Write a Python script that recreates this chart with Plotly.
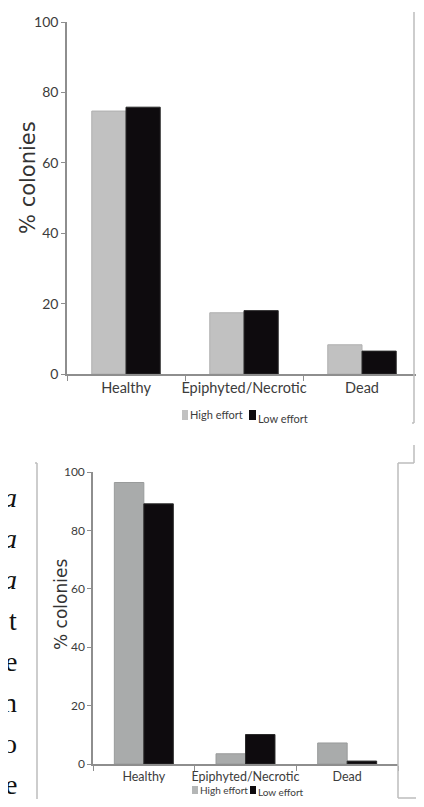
import plotly.graph_objects as go

# The page adds an 8 px body margin on every side, so the figure is drawn
# smaller (to avoid scrollbars) and reference pixel positions are shifted.
PAGE_OFF = 8
W, H = 424 - PAGE_OFF, 807 - 2 * PAGE_OFF

categories = ["Healthy", "Epiphyted/Necrotic", "Dead"]
series_names = ["High effort", "Low effort"]

top_high = [74.7, 17.4, 8.3]
top_low = [75.8, 18.0, 6.5]

bottom_high = [96.4, 3.5, 7.2]
bottom_low = [89.1, 10.1, 1.0]

y_ticks = [0, 20, 40, 60, 80, 100]
y_title = "% colonies"

side_letters = ["a", "a", "a", "t", "e", "n", "o", "e"]
side_italic = [True, True, True, False, False, False, False, False]

NARROW = "Lato, Liberation Sans, sans-serif"
AXIS_GREY = "#8e8e8e"
FRAME_GREY = "#bdbdbd"
TEXT_GREY = "#3c3c3c"


def px(x):
    return (x - PAGE_OFF) / W


def py(y):
    return 1 - (y - PAGE_OFF) / H


fig = go.Figure()

# top panel
fig.add_trace(go.Bar(x=categories, y=top_high, name=series_names[0],
                     marker=dict(color="#c1c1c1", line=dict(color="#b0b0b0", width=1)),
                     xaxis="x", yaxis="y"))
fig.add_trace(go.Bar(x=categories, y=top_low, name=series_names[1],
                     marker=dict(color="#0e0b0e", line=dict(color="#2a2a2a", width=1)),
                     xaxis="x", yaxis="y"))
# bottom panel
fig.add_trace(go.Bar(x=categories, y=bottom_high, name=series_names[0],
                     marker=dict(color="#a9abab", line=dict(color="#999b9b", width=1)),
                     xaxis="x2", yaxis="y2"))
fig.add_trace(go.Bar(x=categories, y=bottom_low, name=series_names[1],
                     marker=dict(color="#0e0b0e", line=dict(color="#2a2a2a", width=1)),
                     xaxis="x2", yaxis="y2"))


def xaxis_style(domain, size):
    return dict(domain=domain, type="category", showline=True, linecolor=AXIS_GREY,
                linewidth=1.5, ticks="outside", tickson="boundaries", ticklen=5,
                tickcolor=AXIS_GREY, tickwidth=1.2, showgrid=False, zeroline=False,
                tickangle=0, automargin=False,
                tickfont=dict(family=NARROW, size=size, color=TEXT_GREY), fixedrange=True)


def yaxis_style(domain, anchor, size):
    return dict(domain=domain, anchor=anchor, range=[0, 100], tickvals=y_ticks,
                showline=True, linecolor=AXIS_GREY, linewidth=1.5, ticks="outside",
                ticklen=4, tickcolor=AXIS_GREY, tickwidth=1.2, showgrid=False,
                zeroline=False, automargin=False,
                tickfont=dict(family=NARROW, size=size, color=TEXT_GREY),
                fixedrange=True)


fig.update_layout(
    width=W, height=H,
    margin=dict(l=0, r=0, t=0, b=0, autoexpand=False),
    paper_bgcolor="white", plot_bgcolor="white",
    showlegend=False,
    barmode="group", bargap=0.42, bargroupgap=0,
    xaxis=dict(**xaxis_style([px(67), px(421)], 14.5), anchor="y"),
    yaxis=yaxis_style([py(374), py(22)], "x", 14),
    xaxis2=dict(**xaxis_style([px(93), px(398)], 12.5), anchor="y2"),
    yaxis2=yaxis_style([py(764), py(472)], "x2", 12),
)

annotations = []
# y titles
annotations.append(dict(x=px(28), y=py(178), xref="paper", yref="paper", text=y_title,
                        textangle=-90, showarrow=False, xanchor="center", yanchor="middle",
                        font=dict(family="DejaVu Sans", size=21, color="#333333")))
annotations.append(dict(x=px(61), y=py(605), xref="paper", yref="paper", text=y_title,
                        textangle=-90, showarrow=False, xanchor="center", yanchor="middle",
                        font=dict(family="DejaVu Sans", size=17, color="#333333")))

# legends
shapes = []


def legend(sq1, sq2, ytop, ybot, ytext1, ytext2, size, grey):
    shapes.append(dict(type="rect", xref="paper", yref="paper",
                       x0=px(sq1[0]), x1=px(sq1[1]), y0=py(ybot), y1=py(ytop),
                       fillcolor=grey, line=dict(width=0)))
    shapes.append(dict(type="rect", xref="paper", yref="paper",
                       x0=px(sq2[0]), x1=px(sq2[1]), y0=py(ybot), y1=py(ytop),
                       fillcolor="#0e0b0e", line=dict(width=0)))
    annotations.append(dict(x=px(sq1[1]), y=py(ytext1), xref="paper", yref="paper",
                            text=series_names[0], xanchor="left", yanchor="middle",
                            showarrow=False,
                            font=dict(family=NARROW, size=size, color=TEXT_GREY)))
    annotations.append(dict(x=px(sq2[1]), y=py(ytext2), xref="paper", yref="paper",
                            text=series_names[1], xanchor="left", yanchor="middle",
                            showarrow=False,
                            font=dict(family=NARROW, size=size, color=TEXT_GREY)))


legend((182, 188), (249, 256), 410, 420, 415, 418, 11, "#c1c1c1")
legend((192, 198), (250, 256), 786, 794, 790, 792, 10, "#b4b6b6")

# clipped body-text letters on the left of the page
for i, (ch, it) in enumerate(zip(side_letters, side_italic)):
    annotations.append(dict(x=px(19), y=py(497 + 41 * i), xref="paper", yref="paper",
                            text=f"<i>{ch}</i>" if it else ch, xanchor="right",
                            yanchor="middle", showarrow=False,
                            font=dict(family="Liberation Serif", size=28, color="#111111")))

# frame lines from the page
RIGHT = 414
frame = [
    (RIGHT, 12, RIGHT, 423),
    (RIGHT, 423, RIGHT - 2, 423),
    (RIGHT, 445, RIGHT, 463),
    (RIGHT, 463, 398, 463),
    (398, 463, 398, 798),
    (398, 798, 424, 798),
    (37, 463, 37, 799),
    (37, 463, 35, 463),
]
for x0, y0, x1, y1 in frame:
    shapes.append(dict(type="line", xref="paper", yref="paper",
                       x0=px(x0), y0=py(y0), x1=px(x1), y1=py(y1),
                       line=dict(color=FRAME_GREY, width=1.5)))

fig.update_layout(annotations=annotations, shapes=shapes)

fig.write_html("out.html")
